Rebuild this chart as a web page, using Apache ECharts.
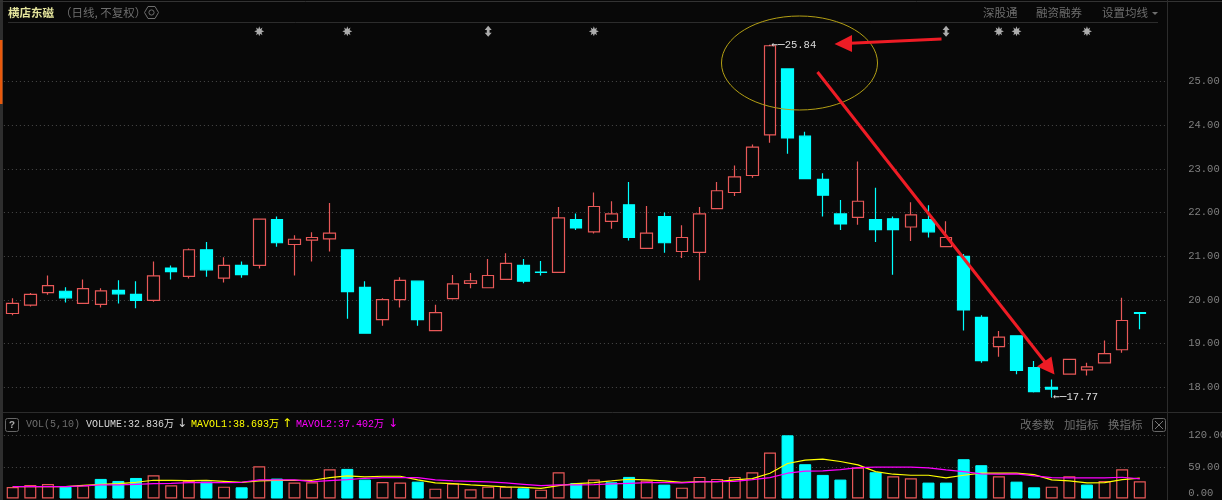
<!DOCTYPE html>
<html><head><meta charset="utf-8">
<style>html,body{margin:0;padding:0;background:#080808}#c{width:1222px;height:500px}</style>
<script src="https://cdn.jsdelivr.net/npm/echarts@6/dist/echarts.min.js"></script>
</head><body><div id="c"></div>
<script>
const opens=[19.69,19.88,20.17,20.20,19.92,19.90,20.22,20.13,19.99,20.73,20.54,21.15,20.50,20.79,20.79,21.84,21.27,21.37,21.40,21.15,20.29,19.55,20.01,20.43,19.30,20.03,20.38,20.28,20.47,20.79,20.64,20.63,21.84,21.56,21.80,22.18,21.18,21.91,21.11,21.09,22.09,22.46,22.85,23.78,25.29,23.75,22.76,21.97,21.89,21.84,21.86,21.67,21.84,21.22,21.00,19.60,18.93,19.18,18.45,18.00,18.30,18.40,18.56,18.86,19.71];
const closes=[19.92,20.13,20.33,20.05,20.26,20.21,20.14,19.99,20.55,20.65,21.15,20.69,20.79,20.58,21.85,21.31,21.39,21.43,21.53,20.19,19.24,20.01,20.45,19.55,19.71,20.37,20.44,20.56,20.84,20.43,20.63,21.88,21.65,22.14,21.97,21.43,21.53,21.31,21.43,21.97,22.50,22.82,23.50,25.82,23.71,22.78,22.40,21.74,22.26,21.61,21.61,21.95,21.56,21.43,19.77,18.61,19.15,18.39,17.90,17.96,18.64,18.47,18.77,19.53,19.69];
const lows=[19.65,19.85,20.12,19.94,19.92,19.83,19.92,19.81,19.96,20.47,20.49,20.53,20.40,20.51,20.72,21.22,20.56,20.88,21.11,19.57,19.24,19.41,19.83,19.41,19.30,20.01,20.27,20.28,20.47,20.38,20.56,20.63,21.60,21.52,21.63,21.36,21.18,21.08,20.96,20.45,22.09,22.38,22.80,23.60,23.35,22.78,21.91,21.60,21.72,21.33,20.58,21.35,21.43,21.22,19.30,18.56,18.70,18.30,17.88,17.77,18.30,18.27,18.56,18.79,19.33];
const highs=[20.04,20.16,20.56,20.29,20.47,20.27,20.45,20.43,20.88,20.79,21.18,21.33,20.98,20.88,21.85,21.91,21.48,21.55,22.22,21.15,20.43,20.04,20.52,20.43,19.89,20.57,20.62,20.94,21.07,20.94,20.89,22.13,21.98,22.46,22.26,22.70,22.15,22.00,21.71,22.13,22.70,23.08,23.56,25.84,25.29,23.85,22.90,22.29,23.17,22.57,21.91,22.24,22.17,21.80,21.05,19.65,19.29,19.18,18.60,18.18,18.64,18.56,19.07,20.05,19.71];
const volumes=[21.9,25.7,27.6,22.5,25,37.2,33.3,39,44.1,25,33.3,32,22.5,21.3,61.3,37.8,30.2,30.8,55.6,56.2,35.9,31.4,30.2,32,18.7,28.3,17.5,22.5,22.5,19.4,16.8,49.9,29.5,35.9,30.8,41,34,26.4,20.6,41,37.2,41,49.9,87.4,120,65.1,44.8,35.9,58.8,49.9,42.2,38.4,30.2,30.2,74.6,63.2,42.2,32,21.3,22.5,42.2,26.4,33.3,55.6,32.8];
const volumeRise=[1,1,1,0,1,0,0,0,1,1,1,0,1,0,1,0,1,1,1,0,0,1,1,0,1,1,1,1,1,0,1,1,0,1,0,0,1,0,1,1,1,1,1,1,0,0,0,0,1,0,1,1,0,0,0,0,1,0,0,1,1,0,1,1,1];
const mavol1=[22.5,22.5,22.5,22.5,25.1,27,28.3,30.8,34.6,34.6,34,34.6,32.7,30.8,33.3,34.6,34.6,34.6,39.7,42.9,41,42.2,42.2,35.3,29.5,28.3,25.7,23.8,21.9,21.3,19.4,24.4,28.3,30.2,33.3,36.5,35.3,33.3,30.8,32.1,32.1,35.3,37.8,48,66.4,72.7,74.6,70.2,63.8,51.1,46.1,44.1,44.1,39.1,44.1,48,48,48,45.4,35.3,33.3,29.5,30.2,35.9,38.7];
const mavol2=[22.5,22.5,22.5,22.5,23.8,25.7,25.7,27,28.3,28.9,30.2,30.8,30.2,30.8,35.3,35.3,35.3,32.1,34,35.9,38.4,39.7,39.7,39.7,35.3,33.3,32.7,31.4,29.5,27,24.4,25.7,25.7,26.4,27.6,28.9,30.2,30.2,29.5,31.4,32.1,32.7,35.9,39.7,48,51.8,52.4,55,58.8,59.4,59.4,59.4,58.1,54.3,51.1,46.7,46.1,46.7,42.9,39.7,39.1,39.1,39.1,40.3,37.4];
const volumeTicks=[0,59,120];
const starEvents=[14,19,33,56,57,61];
const infoEvents=[27,53];
const extremes=[[43,25.84],[59,17.77]];
const categories=opens.map((_,i)=>String(i+1)).concat(['']);

const BG='#080808',RED='#e85858',CYAN='#00ffff',GRID='#4a4a4a',MUTED='#6e6e6e',AXIS='#808080';
const MONO='"Liberation Mono",monospace', CJK='"Noto Sans CJK SC",sans-serif';
const starPath='path://M50 0L60 27L82 12L73 38L100 50L73 62L82 88L60 73L50 100L40 73L18 88L27 62L0 50L27 38L18 12L40 27Z';
const updownPath='path://M50 0L90 38L66 38L66 62L90 62L50 100L10 62L34 62L34 38L10 38Z';
const txt=(text,x,y,fill,font,align)=>({type:'text',z:20,silent:true,x,y,style:{text,fill,font,textAlign:align||'left',textVerticalAlign:'middle'}});
const line=(x1,y1,x2,y2,stroke,lw)=>({type:'line',z:18,silent:true,shape:{x1,y1,x2,y2},style:{stroke,lineWidth:lw||1}});
const poly=(points,fill)=>({type:'polygon',z:19,silent:true,shape:{points},style:{fill}});

const chart=echarts.init(document.getElementById('c'),null,{renderer:'canvas'});
chart.setOption({
  animation:false,backgroundColor:BG,
  grid:[
    {left:3.9,width:1162.3,top:37.9,height:393.1,outerBoundsMode:'none'},
    {left:3.9,width:1162.3,top:435.3,height:63.2,outerBoundsMode:'none'}
  ],
  xAxis:[
    {type:'category',gridIndex:0,data:categories,boundaryGap:true,axisLine:{show:false},axisTick:{show:false},axisLabel:{show:false},splitLine:{show:false}},
    {type:'category',gridIndex:1,data:categories,boundaryGap:true,axisLine:{show:false},axisTick:{show:false},axisLabel:{show:false},splitLine:{show:false}}
  ],
  yAxis:[
    {type:'value',gridIndex:0,position:'right',min:17,max:26,interval:1,axisLine:{show:false},axisTick:{show:false},
     axisLabel:{margin:22,color:AXIS,fontFamily:MONO,fontSize:10.5,showMinLabel:false,showMaxLabel:false,align:'left',formatter:v=>v.toFixed(2)},
     splitLine:{show:true,showMinLine:false,showMaxLine:false,lineStyle:{color:GRID,type:[1,3],width:1}}},
    {type:'value',gridIndex:1,position:'right',min:0,max:120,axisLine:{show:false},
     axisTick:{show:false,customValues:volumeTicks},
     axisLabel:{margin:22,color:AXIS,fontFamily:MONO,fontSize:10.5,align:'left',customValues:volumeTicks,verticalAlignMinLabel:'bottom',formatter:v=>v.toFixed(2)},
     splitLine:{show:true,showMinLine:false,lineStyle:{color:GRID,type:[1,3],width:1}}}
  ],
  series:[
    {type:'candlestick',name:'price',xAxisIndex:0,yAxisIndex:0,barWidth:12,clip:false,
     data:opens.map((o,i)=>[o,closes[i],lows[i],highs[i]]),
     itemStyle:{color:BG,color0:CYAN,borderColor:RED,borderColor0:CYAN,borderWidth:1.2},
     markPoint:{symbol:'circle',symbolSize:1,itemStyle:{color:'#ddd'},silent:true,animation:false,
       label:{show:true,position:'right',distance:1,formatter:p=>'{a|←─}{b|'+p.value+'}',
         rich:{a:{color:'#dcdcdc',fontFamily:'"DejaVu Sans Mono",monospace',fontSize:11},b:{color:'#dcdcdc',fontFamily:MONO,fontSize:10.5}}},
       data:extremes.map(e=>({coord:e,value:e[1].toFixed(2)}))}},
    {type:'scatter',name:'star',xAxisIndex:0,yAxisIndex:0,clip:false,symbol:starPath,symbolSize:10,itemStyle:{color:'#d6d6d6'},silent:true,
     data:starEvents.map(i=>[i,26.15])},
    {type:'scatter',name:'info',xAxisIndex:0,yAxisIndex:0,clip:false,symbol:updownPath,symbolSize:[7,11],itemStyle:{color:'#d6d6d6'},silent:true,
     data:infoEvents.map(i=>[i,26.15])},
    {type:'bar',name:'VOLUME',xAxisIndex:1,yAxisIndex:1,barWidth:12,
     data:volumes.map((v,i)=>({value:v,itemStyle:volumeRise[i]?{color:BG,borderColor:RED,borderWidth:1.2}:{color:CYAN,borderColor:CYAN,borderWidth:1}}))},
    {type:'line',name:'MAVOL1',xAxisIndex:1,yAxisIndex:1,data:mavol1,symbol:'none',lineStyle:{color:'#ffff00',width:1.2},z:5},
    {type:'line',name:'MAVOL2',xAxisIndex:1,yAxisIndex:1,data:mavol2,symbol:'none',lineStyle:{color:'#ff00ff',width:1.2},z:6}
  ],
  graphic:[
    {type:'rect',z:17,silent:true,shape:{x:0,y:0,width:3,height:500},style:{fill:'#2e2e2e'}},
    {type:'rect',z:18,silent:true,shape:{x:0,y:40,width:2.5,height:64},style:{fill:'#e8590c'}},
    line(0,1.5,1222,1.5,'#333'),
    line(8,22.5,1158,22.5,'#2c2c2c'),
    line(1167.5,0,1167.5,500,'#2c2c2c'),
    line(3,412.5,1222,412.5,'#2c2c2c'),
    txt('横店东磁',8,12.5,'#e3e39b','bold 11.5px '+CJK),
    txt('（日线, 不复权）',60,12.5,MUTED,'11.5px '+CJK),
    {type:'polygon',z:19,silent:true,shape:{points:[[158.5,12.5],[155,18.5],[148,18.5],[144.5,12.5],[148,6.5],[155,6.5]]},style:{fill:'none',stroke:MUTED,lineWidth:1}},
    {type:'circle',z:19,silent:true,shape:{cx:151.5,cy:12.5,r:2.6},style:{fill:'none',stroke:MUTED,lineWidth:1}},
    txt('深股通',983,13,MUTED,'11.5px '+CJK),
    txt('融资融券',1036,13,MUTED,'11.5px '+CJK),
    txt('设置均线',1102,13,MUTED,'11.5px '+CJK),
    poly([[1152,12],[1158,12],[1155,15]],MUTED),
    {type:'rect',z:19,silent:true,shape:{x:5.5,y:418.5,width:13,height:13,r:2},style:{fill:'none',stroke:'#666',lineWidth:1}},
    txt('?',12,425,'#aaa','bold 10px '+MONO,'center'),
    txt('VOL(5,10)',26,424,MUTED,'10px '+MONO),
    txt('VOLUME:32.836万',86,424,'#d8d8d8','10px '+MONO+','+CJK),
    txt('↓',182,424,'#d8d8d8','12px "DejaVu Sans"','center'),
    txt('MAVOL1:38.693万',191,424,'#ffff00','10px '+MONO+','+CJK),
    txt('↑',287,424,'#ffff00','12px "DejaVu Sans"','center'),
    txt('MAVOL2:37.402万',296,424,'#ff00ff','10px '+MONO+','+CJK),
    txt('↓',393,424,'#ff00ff','12px "DejaVu Sans"','center'),
    txt('改参数',1020,424.5,MUTED,'11.5px '+CJK),
    txt('加指标',1064,424.5,MUTED,'11.5px '+CJK),
    txt('换指标',1108,424.5,MUTED,'11.5px '+CJK),
    {type:'rect',z:19,silent:true,shape:{x:1152.5,y:418.5,width:13,height:13,r:2},style:{fill:'none',stroke:'#666',lineWidth:1}},
    line(1155,421,1163,429,'#777'),line(1163,421,1155,429,'#777'),
    {type:'ellipse',z:18,silent:true,shape:{cx:799.5,cy:63,rx:78,ry:47},style:{fill:'none',stroke:'#b39f14',lineWidth:1}},
    line(941.5,39,850,43.2,'#ee1c25',3),
    poly([[834.5,44],[852,35],[852,52]],'#ee1c25'),
    line(817.5,72,1045,362,'#ee1c25',3),
    poly([[1054.5,374.5],[1051.5,356.5],[1037,366.5]],'#ee1c25')
  ]
});
</script></body></html>
